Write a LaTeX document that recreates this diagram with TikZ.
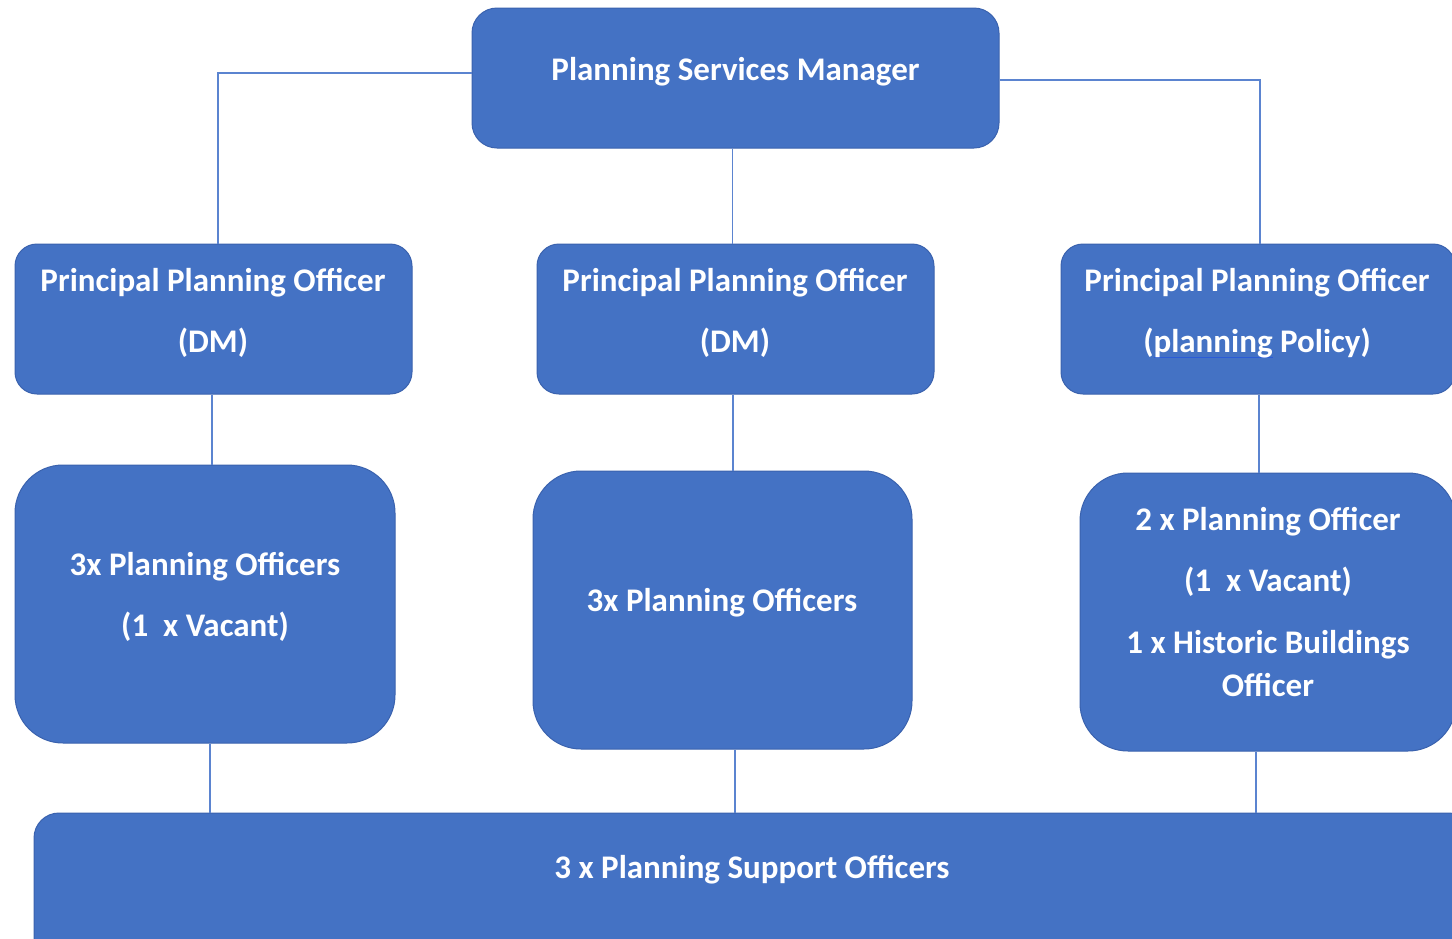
\documentclass[tikz,border=0pt]{standalone}
\usepackage{fontspec}
\setmainfont{Carlito}
\definecolor{boxfill}{HTML}{4472C4}
\definecolor{boxedge}{HTML}{3A62AE}
\definecolor{linkblue}{HTML}{5B84D0}
\definecolor{spellblue}{HTML}{2A5BD7}
% underline drawn as a thin rule beneath a word
\newcommand\spellmark[1]{{\setbox0\hbox{#1}\rlap{\color{spellblue}\rule[-6pt]{\wd0}{1.2pt}}\box0}}
\tikzset{
  unitbox/.style={draw=boxedge, line width=1pt, fill=boxfill, rounded corners=#1, inner sep=0pt},
  lbl/.style={text=white, font=\bfseries\fontsize{33}{43}\selectfont, align=center, inner sep=0pt},
  conn/.style={draw=linkblue, line width=1.1pt},
}
\begin{document}
\begin{tikzpicture}[x=1pt, y=-1pt]
\useasboundingbox (0,0) rectangle (1452,938);
\clip (0,0) rectangle (1452,938);
\fill[white] (0,0) rectangle (1452,938);

% boxes
\node[unitbox=25pt, minimum width=527pt, minimum height=140pt] (psm) at (735.5,78) {};
\node[unitbox=22pt, minimum width=397pt, minimum height=150pt] (ppoA) at (213.5,319) {};
\node[unitbox=22pt, minimum width=397pt, minimum height=150pt] (ppoB) at (735.5,319) {};
\node[unitbox=22pt, minimum width=394pt, minimum height=150pt] (ppoC) at (1258,319) {};
\node[unitbox=48pt, minimum width=380pt, minimum height=278pt] (poA) at (205,604) {};
\node[unitbox=48pt, minimum width=379pt, minimum height=278pt] (poB) at (722.5,610) {};
\node[unitbox=48pt, minimum width=376pt, minimum height=278pt] (poC) at (1268,612) {};
\node[unitbox=25pt, minimum width=1440pt, minimum height=160pt] (sup) at (754,893) {};

% connectors
\draw[conn] ([yshift=5pt]psm.west) -| ([xshift=4.5pt]ppoA.north);
\draw[conn] ([yshift=-2pt]psm.east) -| ([xshift=2pt]ppoC.north);
\draw[conn] ([xshift=-3pt]psm.south) -- ([xshift=-3pt]ppoB.north);
\draw[conn] ([xshift=-1.5pt]ppoA.south) -- ([xshift=-1.5pt]ppoA.south |- poA.north);
\draw[conn] ([xshift=-2.5pt]ppoB.south) -- ([xshift=-2.5pt]ppoB.south |- poB.north);
\draw[conn] ([xshift=1pt]ppoC.south) -- ([xshift=1pt]ppoC.south |- poC.north);
\draw[conn] ([xshift=5pt]poA.south) -- ([xshift=5pt]poA.south |- sup.north);
\draw[conn] ([xshift=12.5pt]poB.south) -- ([xshift=12.5pt]poB.south |- sup.north);
\draw[conn] ([xshift=-12pt]poC.south) -- ([xshift=-12pt]poC.south |- sup.north);

% labels
\node[lbl] (tpsm) at (735.5,72) {Planning Services Manager};
\node[lbl] (tppoA1) at (213,283) {Principal Planning Officer};
\node[lbl] (tppoA2) at (213,343) {(DM)};
\node[lbl] (tppoB1) at (735,283) {Principal Planning Officer};
\node[lbl] (tppoB2) at (735,343) {(DM)};
\node[lbl] (tppoC1) at (1257,283) {Principal Planning Officer};
\node[lbl] (tppoC2) at (1257,343) {(\spellmark{planning} Policy)};
\node[lbl] (tpoA1) at (205,567) {3x Planning Officers};
\node[lbl] (tpoA2) at (205,627) {(1\ \ x Vacant)};
\node[lbl] (tpoB) at (722,603) {3x Planning Officers};
\node[lbl] (tpoC1) at (1268,522) {2 x Planning Officer};
\node[lbl] (tpoC2) at (1268,582) {(1\ \ x Vacant)};
\node[lbl] (tpoC3) at (1268,664) {1 x Historic Buildings\\Officer};
\node[lbl] (tsup) at (752,870) {3 x Planning Support Officers};
\end{tikzpicture}
\end{document}
